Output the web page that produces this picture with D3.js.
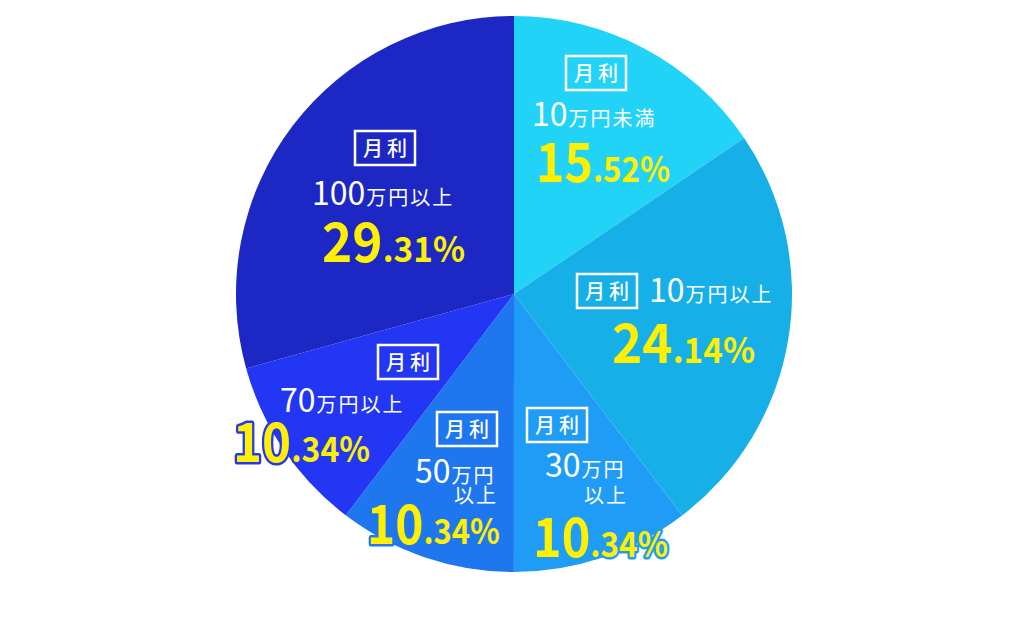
<!DOCTYPE html>
<html><head><meta charset="utf-8">
<script src="https://cdn.jsdelivr.net/npm/d3@7"></script>
<style>html,body{margin:0;padding:0;background:#fff;}svg{display:block;}</style>
</head><body>
<svg id="chart" width="1024" height="620"></svg>
<script>
// ---- data ----
const categories = ["10万円未満","10万円以上","30万円以上","50万円以上","70万円以上","100万円以上"];
const values = [15.52, 24.14, 10.34, 10.34, 10.34, 29.31];
const prefixLabel = "月利";
const amountNums = ["10","10","30","50","70","100"];
const amountUnits = [["万円未満"],["万円以上"],["万円","以上"],["万円","以上"],["万円以上"],["万円以上"]];
const colors = ["#22D3F8","#16AFE8","#1F9DF6","#1F77EF","#2236F4","#1C27C4"];

// ---- layout (label anchors per slice; pw = width of percent label) ----
const layout = [
  {box:[596,73], l1:[532,126], pct:[536,182], pw:134, outline:false},
  {box:[607,291], l1:[649,302], pct:[612,363], pw:143, outline:false},
  {box:[557,425], l1:[545,477], l2:[628,503], pct:[533,557], pw:135, outline:true},
  {box:[467,429], l1:[415,483], l2:[498,503], pct:[367,544], pw:133, outline:true},
  {box:[408,362], l1:[280,412], pct:[233,462], pw:137, outline:true},
  {box:[385,148], l1:[312,205], pct:[322,262], pw:143, outline:false}
];

const svg = d3.select("#chart");
const cx = 514, cy = 294, R = 278;
const g = svg.append("g").attr("transform", `translate(${cx},${cy})`);
const pie = d3.pie().sort(null).value(d => d)(values);
const arc = d3.arc().innerRadius(0).outerRadius(R);
g.selectAll("path").data(pie).join("path")
  .attr("d", arc).attr("fill", (d,i) => colors[i]);

const FONT = "'Noto Sans CJK JP','Noto Sans',sans-serif";
const lg = svg.append("g").attr("font-family", FONT);

values.forEach((v, i) => {
  const L = layout[i];
  // box
  const bw = 60, bh = 34;
  lg.append("rect").attr("x", L.box[0]-bw/2).attr("y", L.box[1]-bh/2)
    .attr("width", bw).attr("height", bh)
    .attr("fill","none").attr("stroke","#fff").attr("stroke-width",2.5);
  lg.append("text").attr("x", L.box[0]+2).attr("y", L.box[1]+7.5)
    .attr("text-anchor","middle").attr("fill","#fff")
    .attr("font-size",20).attr("font-weight",500).attr("letter-spacing",4)
    .text(prefixLabel);
  // amount line
  const t1 = lg.append("text").attr("x", L.l1[0]).attr("y", L.l1[1])
    .attr("fill","#fff").attr("font-weight",400);
  t1.append("tspan").attr("font-size",32).attr("letter-spacing",0).text(amountNums[i]);
  t1.append("tspan").attr("font-size",20).attr("letter-spacing",2).attr("dx",1).text(amountUnits[i][0]);
  if (amountUnits[i][1]) {
    lg.append("text").attr("x", L.l2[0]).attr("y", L.l2[1]).attr("text-anchor","end")
      .attr("fill","#fff").attr("font-size",20).attr("font-weight",400).attr("letter-spacing",2)
      .text(amountUnits[i][1]);
  }
  // percent
  const s = v.toFixed(2).split(".");
  const tp = lg.append("text").attr("x", L.pct[0]).attr("y", L.pct[1])
    .attr("fill","#FFF000").attr("font-weight",700)
    .attr("textLength", L.pw).attr("lengthAdjust","spacingAndGlyphs");
  if (L.outline) tp.attr("stroke", colors[i]).attr("stroke-width",5)
    .attr("stroke-linejoin","round").attr("paint-order","stroke");
  tp.append("tspan").attr("font-size",54).text(s[0]);
  tp.append("tspan").attr("font-size",35).text("." + s[1] + "%");
});
</script>
</body></html>
